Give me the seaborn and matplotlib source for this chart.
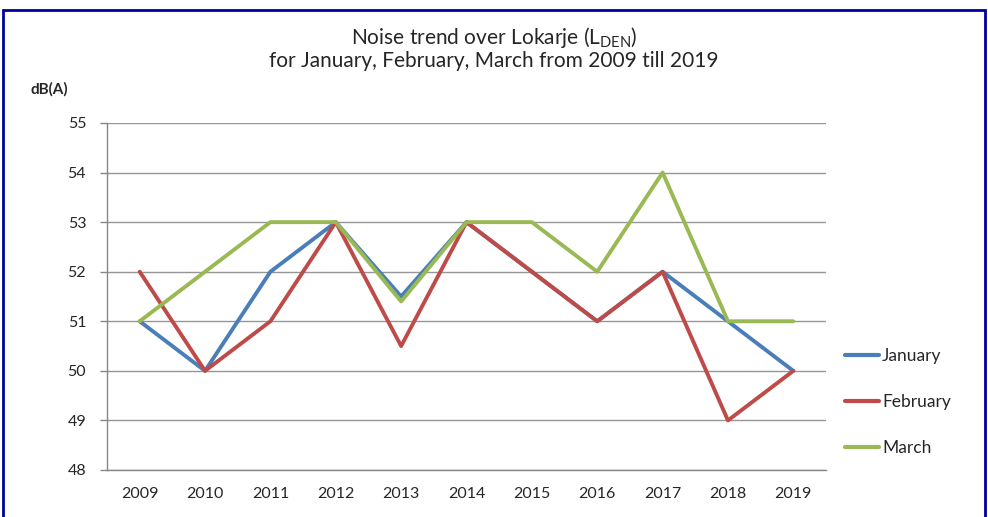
import numpy as np
import pandas as pd
import seaborn as sns
import matplotlib.pyplot as plt
from matplotlib.patches import Rectangle


years = [2009, 2010, 2011, 2012, 2013, 2014, 2015, 2016, 2017, 2018, 2019]
january = [51, 50, 52, 53, 51.5, 53, 52, 51, 52, 51, 50]
february = [52, 50, 51, 53, 50.5, 53, 52, 51, 52, 49, 50]
march = [51, 52, 53, 53, 51.4, 53, 53, 52, 54, 51, 51]
months = ['January', 'February', 'March']
colors = ['#4A7EBB', '#BE4B48', '#98B954']


def main():
    df = pd.DataFrame({'year': years, 'January': january,
                       'February': february, 'March': march})
    df = df.melt(id_vars='year', var_name='month', value_name='dB')

    sns.set_style('white')
    plt.rcParams['font.family'] = ['Lato', 'DejaVu Sans']

    fig = plt.figure(figsize=(9.88, 5.17), dpi=100)
    ax = fig.add_axes([107 / 988, 1 - 470 / 517, (826 - 107) / 988, (470 - 123) / 517])

    sns.lineplot(data=df, x='year', y='dB', hue='month', hue_order=months,
                 palette=colors, linewidth=2.8, ax=ax)

    ax.set_xlim(2008.5, 2019.5)
    ax.set_ylim(48, 55)
    ax.set_xticks(years)
    ax.set_xticklabels([str(y) for y in years])
    ax.set_xticks(np.arange(2008.5, 2020, 1), minor=True)
    ax.set_yticks(range(48, 56))
    ax.tick_params(axis='x', which='major', length=0, pad=12, labelsize=11.5)
    ax.tick_params(axis='x', which='minor', length=5, color='#868686', width=1)
    ax.tick_params(axis='y', length=5, color='#868686', width=1, pad=10, labelsize=11.5,
                   direction='out', left=True)
    ax.yaxis.grid(True, color='#969696', linewidth=1)
    ax.set_axisbelow(True)
    for side in ['top', 'right']:
        ax.spines[side].set_visible(False)
    for side in ['left', 'bottom']:
        ax.spines[side].set_color('#868686')
        ax.spines[side].set_linewidth(1)
    ax.set_xlabel('')
    ax.set_ylabel('')

    leg = ax.legend(loc='upper left', bbox_to_anchor=(829 / 988, 1 - 332 / 517),
                    bbox_transform=fig.transFigure, frameon=False, fontsize=12.5,
                    handlelength=2.0, handletextpad=0.15, labelspacing=1.75)
    for line in leg.get_lines():
        line.set_linewidth(3)

    fig.text(0.5, 1 - 38 / 517, r'Noise trend over Lokarje (L$_{\mathregular{DEN}}$)',
             ha='center', va='center', fontsize=15)
    fig.text(0.5, 1 - 61 / 517, 'for January, February, March from 2009 till 2019',
             ha='center', va='center', fontsize=15)
    fig.text(30 / 988, 1 - 89 / 517, 'dB(A)', ha='left', va='center',
             fontsize=11, fontweight='bold')

    # dark blue frame around the chart
    fig.patches.append(Rectangle((3 / 988, -0.05), (985 - 3) / 988, 1.05 - 10 / 517,
                                 transform=fig.transFigure, fill=False,
                                 edgecolor='#0000A0', linewidth=2))

    fig.savefig('out.png', dpi=100)


if __name__ == "__main__":
    main()
